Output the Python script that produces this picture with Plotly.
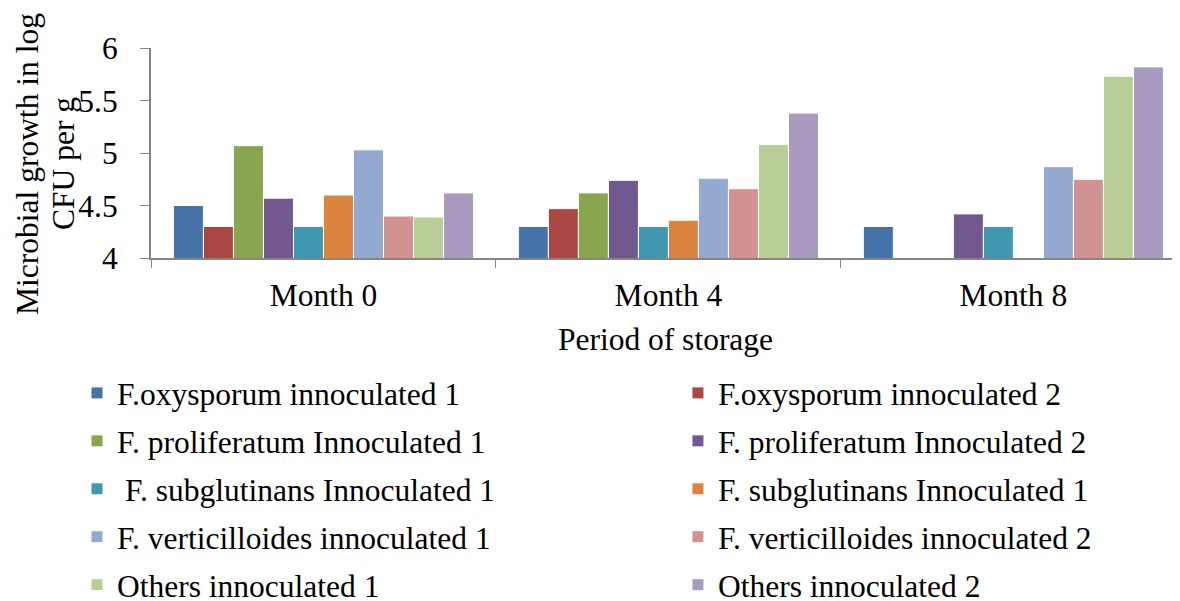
import plotly.graph_objects as go

months = ["Month 0", "Month 4", "Month 8"]

series_names = [
    "F.oxysporum innoculated 1",
    "F.oxysporum innoculated 2",
    "F. proliferatum Innoculated 1",
    "F. proliferatum Innoculated 2",
    " F. subglutinans Innoculated 1",
    "F. subglutinans Innoculated 1",
    "F. verticilloides innoculated 1",
    "F. verticilloides innoculated 2",
    "Others innoculated 1",
    "Others innoculated 2",
]

oxy_1 = [4.50, 4.30, 4.30]
oxy_2 = [4.30, 4.47, None]
prolif_1 = [5.07, 4.62, None]
prolif_2 = [4.57, 4.74, 4.42]
subglut_1 = [4.30, 4.30, 4.30]
subglut_1b = [4.60, 4.36, None]
vert_1 = [5.03, 4.76, 4.87]
vert_2 = [4.40, 4.66, 4.75]
others_1 = [4.39, 5.08, 5.73]
others_2 = [4.62, 5.38, 5.82]

values = [oxy_1, oxy_2, prolif_1, prolif_2, subglut_1, subglut_1b,
          vert_1, vert_2, others_1, others_2]

colors = ["#4572A7", "#AA4643", "#89A54E", "#71588F", "#4198AF",
          "#DB843D", "#93A9CF", "#D19392", "#B9CD96", "#A99BBD"]

FONT = "Liberation Serif, Times New Roman, serif"
FS = 31.5

fig = go.Figure()
for i, (name, vals, col) in enumerate(zip(series_names, values, colors)):
    fig.add_trace(go.Bar(
        x=months, y=vals, name=name,
        marker=dict(color=col, line=dict(color="white", width=1)),
        legend="legend" if i % 2 == 0 else "legend2",
        legendgroup=str(i),
    ))

legend_style = dict(y=-0.514, xanchor="left", yanchor="top",
                    traceorder="grouped", tracegroupgap=4,
                    font=dict(family=FONT, size=FS, color="black"),
                    bgcolor="rgba(0,0,0,0)")

# page body has an 8px margin, so the figure is 8px smaller on each axis
fig.update_layout(
    width=1172, height=593,
    margin=dict(l=143, r=0, t=40, b=343, autoexpand=False),
    plot_bgcolor="white", paper_bgcolor="white",
    font=dict(family=FONT, size=FS, color="black"),
    barmode="group", bargap=0.13, bargroupgap=0,
    showlegend=True,
    legend=dict(x=-0.0719, **legend_style),
    legend2=dict(x=0.5121, **legend_style),
)

fig.update_xaxes(
    range=[-0.5, 2.483], showline=True, linecolor="#868686", linewidth=2,
    ticks="outside", tickson="boundaries", ticklen=8, tickcolor="#868686",
    ticklabelstandoff=8, showgrid=False,
    title=dict(text="Period of storage", standoff=16,
               font=dict(family=FONT, size=FS, color="black")),
)
fig.update_yaxes(
    range=[4, 6], dtick=0.5, showline=True, linecolor="#868686", linewidth=2,
    ticks="outside", ticklen=9, tickcolor="#868686", ticklabelstandoff=16,
    showgrid=False, zeroline=False,
)

for txt, xp in [("Microbial growth in log", -0.1195), ("CFU per g", -0.0845)]:
    fig.add_annotation(
        text=txt, textangle=-90,
        xref="paper", yref="paper", x=xp, y=0.448,
        xanchor="center", yanchor="middle", showarrow=False,
        font=dict(family=FONT, size=FS, color="black"),
    )

fig.write_html("out.html")
